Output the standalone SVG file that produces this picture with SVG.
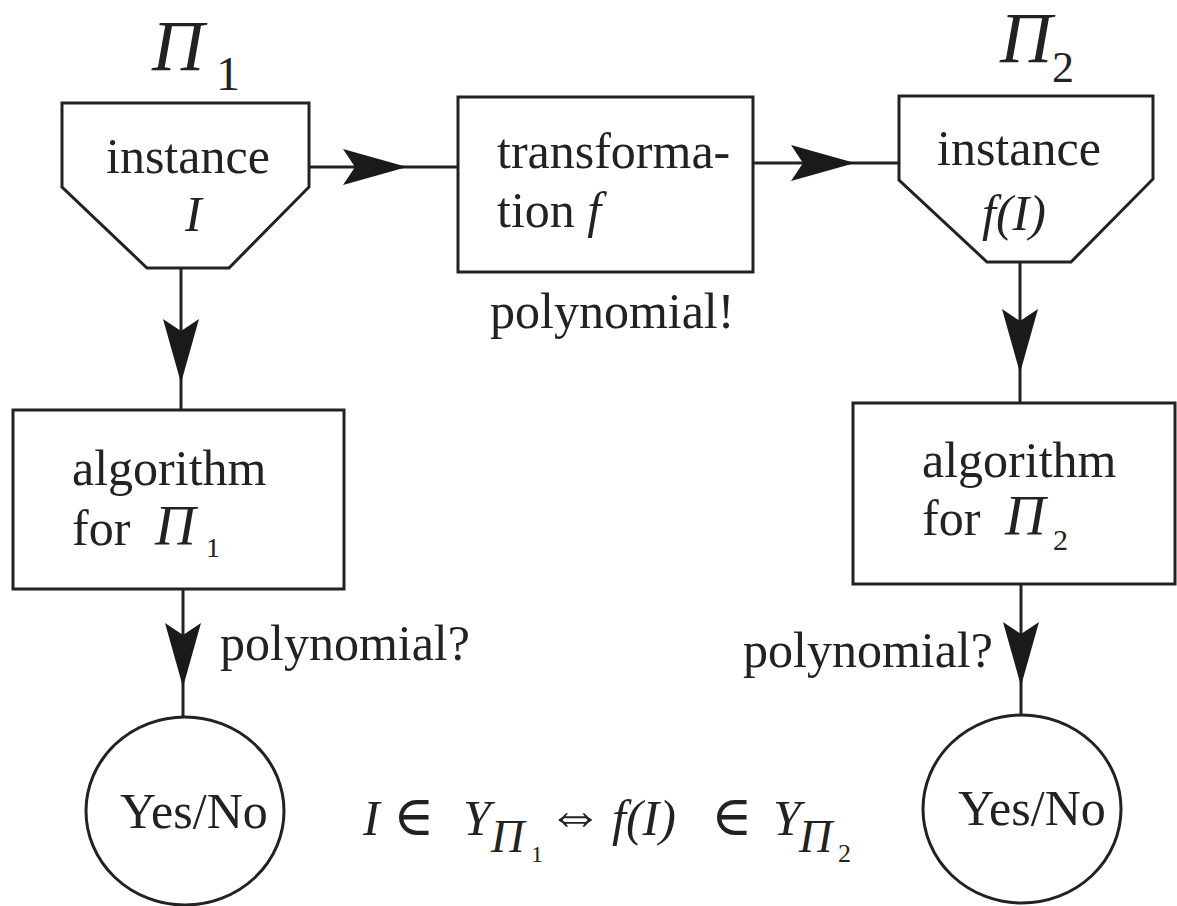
<svg xmlns="http://www.w3.org/2000/svg" xmlns:xlink="http://www.w3.org/1999/xlink" width="1177" height="906" viewBox="0 0 1177 906">
<style>
.shape{fill:#fff;stroke:#222;stroke-width:3}
.ln{stroke:#222;stroke-width:3;fill:none}
.ah{fill:#1a1a1a}
text{font-family:"Liberation Serif","DejaVu Serif",serif;fill:#222;font-size:50px}
.it{font-style:italic}
</style>
<defs>
<path id="ah" d="M0,0 L-64,-18 L-52,0 L-64,18 Z"/>
</defs>
<rect width="1177" height="906" fill="#fff"/>
<g id="connectors">
<line class="ln" x1="309" y1="167" x2="458" y2="167"/>
<use href="#ah" class="ah" transform="translate(407,167)"/>
<line class="ln" x1="753" y1="163" x2="899" y2="163"/>
<use href="#ah" class="ah" transform="translate(855,163)"/>
<line class="ln" x1="181" y1="268" x2="181" y2="410"/>
<use href="#ah" class="ah" transform="translate(181,383) rotate(90)"/>
<line class="ln" x1="183" y1="589" x2="183" y2="718"/>
<use href="#ah" class="ah" transform="translate(183,687) rotate(90)"/>
<line class="ln" x1="1020" y1="262" x2="1020" y2="403"/>
<use href="#ah" class="ah" transform="translate(1020,373) rotate(90)"/>
<line class="ln" x1="1021" y1="584" x2="1021" y2="715"/>
<use href="#ah" class="ah" transform="translate(1021,686) rotate(90)"/>
</g>
<g id="instance1">
<text class="it" x="152" y="70" style="font-size:72px">Π</text>
<text x="216" y="90" style="font-size:48px">1</text>
<polygon class="shape" points="62,103 309,103 309,187 229,268 147,268 62,187"/>
<text x="106" y="173">instance</text>
<text class="it" x="185" y="231">I</text>
</g>
<g id="transformation">
<rect class="shape" x="458" y="97" width="295" height="175"/>
<text x="497" y="168">transforma-</text>
<text x="497" y="227">tion <tspan class="it">f</tspan></text>
<text x="490" y="328">polynomial!</text>
</g>
<g id="instance2">
<text class="it" x="1000" y="62" style="font-size:72px">Π</text>
<text x="1052" y="82" style="font-size:44px">2</text>
<polygon class="shape" points="899,96 1153,96 1153,179 1071,262 987,262 899,180"/>
<text x="937" y="165">instance</text>
<text class="it" x="982" y="230">f(I)</text>
</g>
<g id="algorithm1">
<rect class="shape" x="13" y="410" width="331" height="179"/>
<text x="72" y="485">algorithm</text>
<text x="72" y="545">for</text>
<text class="it" x="155" y="545" style="font-size:56px">Π</text>
<text x="206" y="557" style="font-size:28px">1</text>
<text x="220" y="660">polynomial?</text>
</g>
<g id="algorithm2">
<rect class="shape" x="853" y="403" width="322" height="181"/>
<text x="922" y="477">algorithm</text>
<text x="922" y="535">for</text>
<text class="it" x="1005" y="535" style="font-size:56px">Π</text>
<text x="1053" y="550" style="font-size:30px">2</text>
<text x="743" y="667">polynomial?</text>
</g>
<g id="result1">
<ellipse class="shape" cx="185" cy="811" rx="99" ry="94"/>
<text x="120" y="828">Yes/No</text>
</g>
<g id="result2">
<ellipse class="shape" cx="1022" cy="809" rx="99" ry="94"/>
<text x="958" y="825">Yes/No</text>
</g>
<g id="formula">
<text class="it" x="363" y="835">I</text>
<text x="393" y="835" style="font-size:56px">∈</text>
<text class="it" x="463" y="835">Y</text>
<text class="it" x="491" y="852" style="font-size:46px">Π</text>
<text x="531" y="862" style="font-size:24px">1</text>
<text x="547" y="833" style="font-size:56px">⇔</text>
<text class="it" x="612" y="835">f(I)</text>
<text x="711" y="835" style="font-size:56px">∈</text>
<text class="it" x="773" y="835">Y</text>
<text class="it" x="799" y="852" style="font-size:46px">Π</text>
<text x="838" y="862" style="font-size:26px">2</text>
</g>
</svg>
